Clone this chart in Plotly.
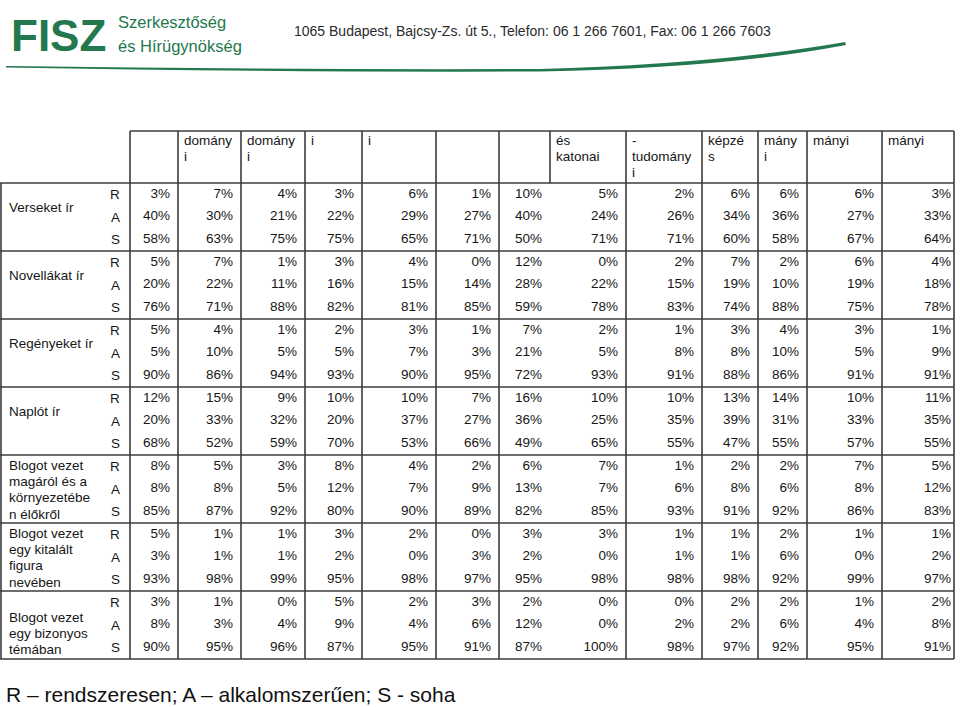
import plotly.graph_objects as go

# ---------------- data ----------------
activities = [
    "Verseket ír",
    "Novellákat ír",
    "Regényeket ír",
    "Naplót ír",
    "Blogot vezet<br>magáról és a<br>környezetébe<br>n élőkről",
    "Blogot vezet<br>egy kitalált<br>figura<br>nevében",
    "Blogot vezet<br>egy bizonyos<br>témában",
]
frequency = ["R", "A", "S"]
column_headers = ["", "domány<br>i", "domány<br>i", "i", "i", "", "",
                  "és<br>katonai", "-<br>tudomány<br>i", "képzé<br>s", "mány<br>i",
                  "mányi", "mányi"]

verseket_ir = [
    [3, 7, 4, 3, 6, 1, 10, 5, 2, 6, 6, 6, 3],
    [40, 30, 21, 22, 29, 27, 40, 24, 26, 34, 36, 27, 33],
    [58, 63, 75, 75, 65, 71, 50, 71, 71, 60, 58, 67, 64],
]
novellakat_ir = [
    [5, 7, 1, 3, 4, 0, 12, 0, 2, 7, 2, 6, 4],
    [20, 22, 11, 16, 15, 14, 28, 22, 15, 19, 10, 19, 18],
    [76, 71, 88, 82, 81, 85, 59, 78, 83, 74, 88, 75, 78],
]
regenyeket_ir = [
    [5, 4, 1, 2, 3, 1, 7, 2, 1, 3, 4, 3, 1],
    [5, 10, 5, 5, 7, 3, 21, 5, 8, 8, 10, 5, 9],
    [90, 86, 94, 93, 90, 95, 72, 93, 91, 88, 86, 91, 91],
]
naplot_ir = [
    [12, 15, 9, 10, 10, 7, 16, 10, 10, 13, 14, 10, 11],
    [20, 33, 32, 20, 37, 27, 36, 25, 35, 39, 31, 33, 35],
    [68, 52, 59, 70, 53, 66, 49, 65, 55, 47, 55, 57, 55],
]
blog_magarol = [
    [8, 5, 3, 8, 4, 2, 6, 7, 1, 2, 2, 7, 5],
    [8, 8, 5, 12, 7, 9, 13, 7, 6, 8, 6, 8, 12],
    [85, 87, 92, 80, 90, 89, 82, 85, 93, 91, 92, 86, 83],
]
blog_kitalalt = [
    [5, 1, 1, 3, 2, 0, 3, 3, 1, 1, 2, 1, 1],
    [3, 1, 1, 2, 0, 3, 2, 0, 1, 1, 6, 0, 2],
    [93, 98, 99, 95, 98, 97, 95, 98, 98, 98, 92, 99, 97],
]
blog_temaban = [
    [3, 1, 0, 5, 2, 3, 2, 0, 0, 2, 2, 1, 2],
    [8, 3, 4, 9, 4, 6, 12, 0, 2, 2, 6, 4, 8],
    [90, 95, 96, 87, 95, 91, 87, 100, 98, 97, 92, 95, 91],
]
all_values = [verseket_ir, novellakat_ir, regenyeket_ir, naplot_ir,
              blog_magarol, blog_kitalalt, blog_temaban]

legend_text = "R – rendszeresen; A – alkalomszerűen; S - soha"
org_line1 = "Szerkesztőség"
org_line2 = "és Hírügynökség"
address = "1065 Budapest, Bajcsy-Zs. út 5., Telefon: 06 1 266 7601, Fax: 06 1 266 7603"

# ---------------- layout geometry ----------------
W, H = 960, 707
col_edges = [130, 178, 241, 305, 362, 436, 499, 550, 626, 702, 758, 807, 882, 954]
body_missing_lines = [550]
head_top, body_top, body_bottom = 131, 183, 659
n_sub = len(activities) * 3
row_h = (body_bottom - body_top) / n_sub
group_h = row_h * 3
label_first_offset = [24, 24, 24, 24, 10, 10, 26]
line_gap = 16.4
FONT = "Liberation Sans, Arial, sans-serif"
GREEN = "#23784d"
LINE = "#3c3c3c"
TXT = "#161616"

fig = go.Figure()

# values through a text trace
xs, ys, ts = [], [], []
for g, block in enumerate(all_values):
    for s, row in enumerate(block):
        yc = body_top + row_h * (g * 3 + s + 0.5)
        for c, v in enumerate(row):
            right = col_edges[c + 1]
            xs.append(right - 8 if c < len(row) - 1 else right - 3)
            ys.append(yc)
            ts.append(f"{v}%")
fig.add_trace(go.Scatter(
    x=xs, y=ys, text=ts, mode="text", textposition="middle left",
    textfont=dict(family=FONT, size=13.5, color=TXT),
    hoverinfo="skip", showlegend=False))

shapes = []
ann = []

def line(x0, y0, x1, y1, w=1.6, color=LINE):
    shapes.append(dict(type="line", xref="x", yref="y", x0=x0, y0=y0, x1=x1, y1=y1,
                       line=dict(color=color, width=w)))

# header box
line(col_edges[0], head_top, col_edges[-1], head_top)
for x in col_edges:
    line(x, head_top, x, body_top)
# body
line(1, body_top, 1, body_bottom)
for x in col_edges:
    if x in body_missing_lines:
        continue
    line(x, body_top, x, body_bottom)
for g in range(len(activities) + 1):
    y = body_top + g * group_h
    line(0, y, col_edges[-1], y)

# header text
for c, htxt in enumerate(column_headers):
    for k, part in enumerate(htxt.split("<br>")):
        if not part:
            continue
        ann.append(dict(x=col_edges[c] + 4, y=140 + k * line_gap, text=part,
                        xanchor="left", yanchor="middle", showarrow=False,
                        font=dict(family=FONT, size=13.5, color=TXT)))

# row labels and R/A/S
for g, lab in enumerate(activities):
    gt = body_top + g * group_h
    for k, part in enumerate(lab.split("<br>")):
        ann.append(dict(x=7, y=gt + label_first_offset[g] + k * line_gap, text=part,
                        xanchor="left", yanchor="middle", showarrow=False,
                        font=dict(family=FONT, size=13.5, color=TXT)))
    for s, letter in enumerate(frequency):
        ann.append(dict(x=115, y=gt + row_h * (s + 0.5), text=letter,
                        xanchor="center", yanchor="middle", showarrow=False,
                        font=dict(family=FONT, size=13.5, color=TXT)))

# footer legend
ann.append(dict(x=4, y=694, text=legend_text, xanchor="left", yanchor="middle",
                showarrow=False, font=dict(family=FONT, size=21, color="#111111")))

# letterhead
ann.append(dict(x=9, y=35, text="<b>FISZ</b>", xanchor="left", yanchor="middle",
                showarrow=False, font=dict(family=FONT, size=44, color=GREEN)))
ann.append(dict(x=116, y=22, text=org_line1, xanchor="left", yanchor="middle",
                showarrow=False, font=dict(family=FONT, size=16.5, color=GREEN)))
ann.append(dict(x=116, y=46, text=org_line2, xanchor="left", yanchor="middle",
                showarrow=False, font=dict(family=FONT, size=16.5, color=GREEN)))
ann.append(dict(x=292, y=31, text=address, xanchor="left", yanchor="middle",
                showarrow=False, font=dict(family=FONT, size=14, color="#2b2b2b")))
# swoosh
shapes.append(dict(type="path", xref="x", yref="y",
                   path="M 6,66 Q 300,70 540,69 Q 720,64 845,42 L 846,45 "
                        "Q 725,68 540,71.5 Q 300,72.5 6,67.5 Z",
                   fillcolor=GREEN, line=dict(width=0)))

fig.update_layout(
    width=W, height=H, margin=dict(l=0, r=0, t=0, b=0),
    paper_bgcolor="white", plot_bgcolor="white",
    xaxis=dict(range=[0, W], visible=False, fixedrange=True),
    yaxis=dict(range=[H, 0], visible=False, fixedrange=True),
    shapes=shapes, annotations=ann, showlegend=False,
)

fig.write_html("out.html", config={"displayModeBar": False},
               post_script="document.body.style.margin='0';")
